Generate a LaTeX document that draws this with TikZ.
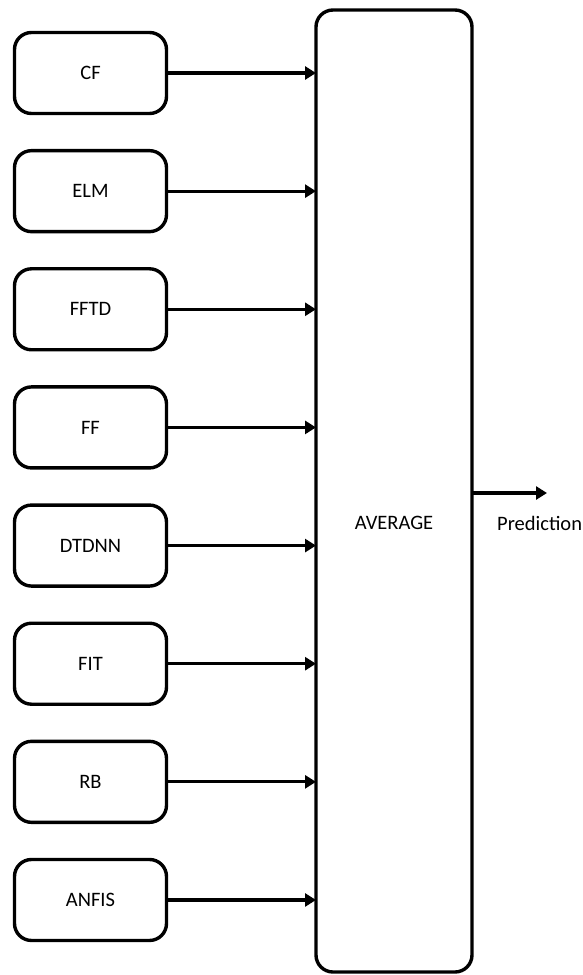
\documentclass[tikz,border=0pt]{standalone}
\usepackage{fontspec}
\setmainfont{Carlito}
\usetikzlibrary{arrows.meta}
\begin{document}
\begin{tikzpicture}[x=1pt,y=-1pt,
  inbox/.style={draw,line width=3.4pt,rounded corners=17pt,minimum width=152pt,minimum height=81pt,inner sep=0pt,font=\fontsize{20.5}{24}\selectfont},
  arr/.style={line width=3.2pt,-{Triangle[length=11pt,width=13pt]}},
  lbl/.style={font=\fontsize{20.5}{24}\selectfont,inner sep=0pt}]
\useasboundingbox (0,0) rectangle (583,975);
\draw[line width=3.4pt,rounded corners=17pt] (316,10) rectangle (472,972);
\node[lbl] (avg) at (394,523) {AVERAGE};
\foreach \n/\t [count=\i from 0] in {cf/CF,elm/ELM,fftd/FFTD,ff/FF,dtdnn/DTDNN,fit/FIT,rb/RB,anfis/ANFIS}{
  \pgfmathsetmacro{\yy}{73+118.14*\i}
  \node[inbox] (\n) at (90.5,\yy) {\t};
  \coordinate (\n t) at (316,\yy);
  \draw[arr] (\n.east) -- (\n t);
}
\coordinate (outs) at (472,493);
\coordinate (oute) at (547,493);
\draw[arr] (outs) -- (oute);
\node[lbl,anchor=west] (pred) at (497,523) {Prediction};
\end{tikzpicture}
\end{document}
